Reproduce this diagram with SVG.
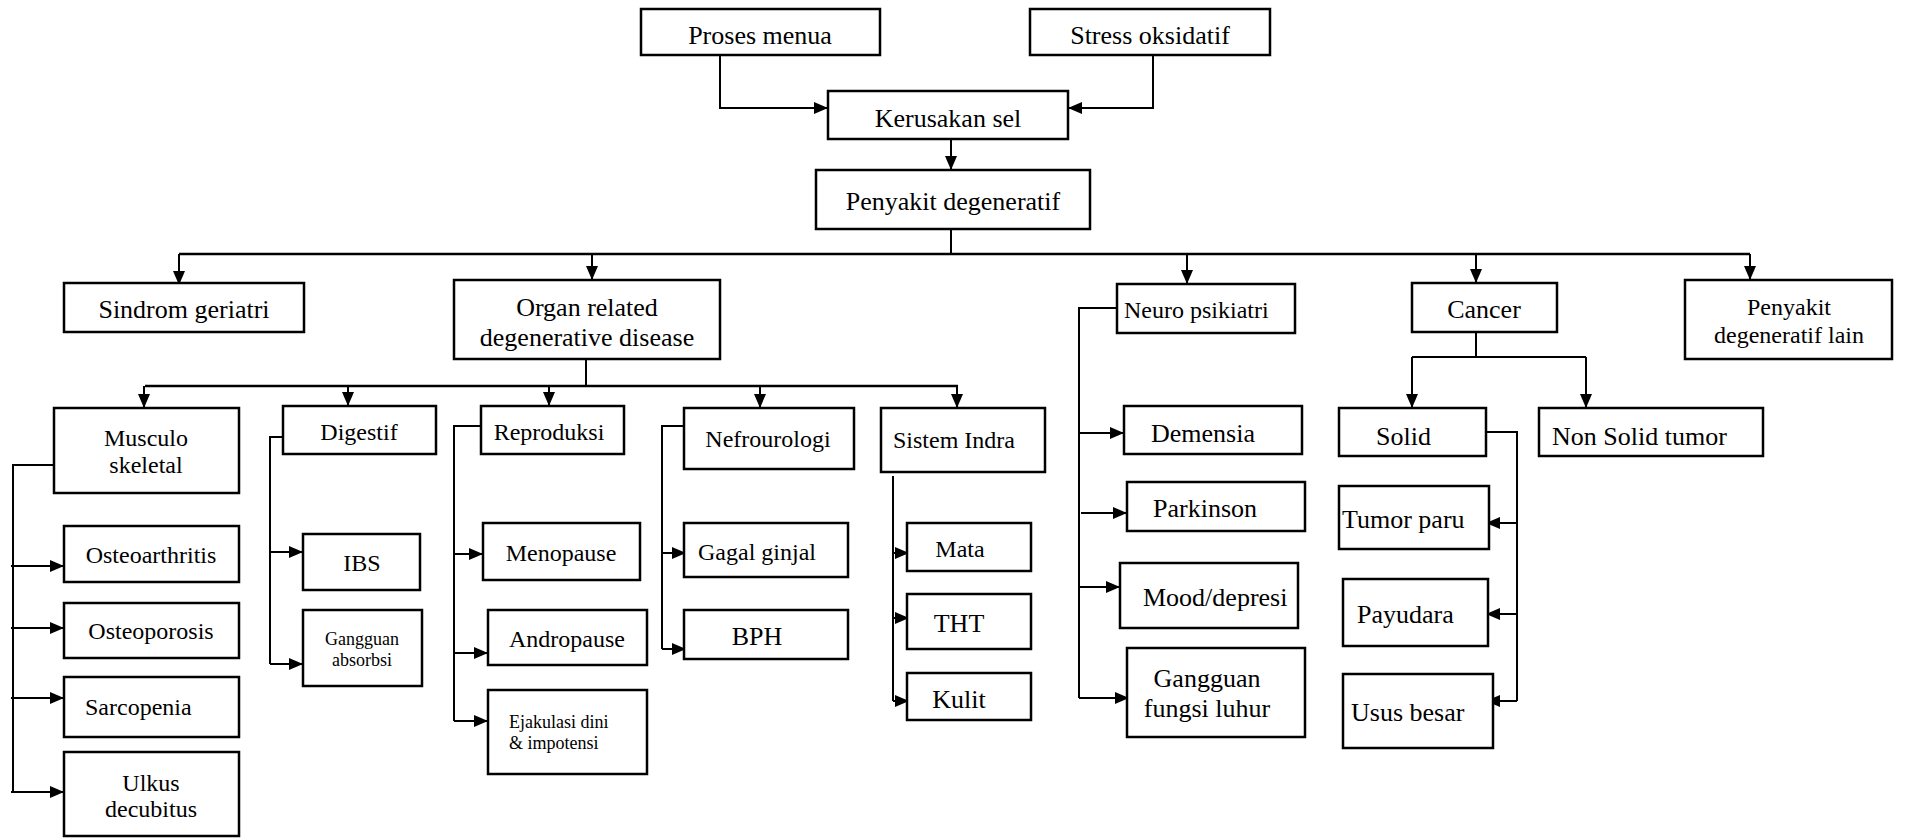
<svg xmlns="http://www.w3.org/2000/svg" width="1907" height="838" viewBox="0 0 1907 838">
<style>
.b{fill:#fff;stroke:#000;stroke-width:2.5}
text{font-family:'Liberation Serif','Times New Roman',serif !important;fill:#000;font-size:24px}
.l{font-size:26px}
.s{font-size:18px}
.c{text-anchor:middle}
.k{fill:none;stroke:#000;stroke-width:2}
.ka{fill:none;stroke:#000;stroke-width:2;marker-end:url(#a)}
</style>
<defs>
<marker id="a" markerUnits="userSpaceOnUse" markerWidth="14" markerHeight="12" refX="14" refY="6" orient="auto"><path d="M0,0L14,6L0,12z" fill="#000"/></marker>
</defs>
<rect width="1907" height="838" fill="#fff"/>
<g id="connectors">
<path class="ka" d="M720,55V108H828"/>
<path class="ka" d="M1153,55V108H1068"/>
<path class="ka" d="M951,139V170"/>
<path class="k" d="M951,229V254"/>
<path class="k" style="stroke-width:2.5" d="M179,254H1750"/>
<path class="ka" d="M179,254V285"/>
<path class="ka" d="M592,254V280"/>
<path class="ka" d="M1187,254V284"/>
<path class="ka" d="M1476,254V283"/>
<path class="ka" d="M1750,254V280"/>
<path class="k" d="M586,359V386"/>
<path class="k" style="stroke-width:2.5" d="M145,386H958"/>
<path class="ka" d="M144,386V408"/>
<path class="ka" d="M348,386V406"/>
<path class="ka" d="M549,386V406"/>
<path class="ka" d="M760,386V408"/>
<path class="ka" d="M957,386V408"/>
<path class="k" d="M54,465H13V792"/>
<path class="ka" d="M11,566H64"/>
<path class="ka" d="M11,628H64"/>
<path class="ka" d="M11,698H64"/>
<path class="ka" d="M11,792H64"/>
<path class="k" d="M290,437H270V664"/>
<path class="ka" d="M270,552H303"/>
<path class="ka" d="M270,664H303"/>
<path class="k" d="M481,426H454V721"/>
<path class="ka" d="M454,554H483"/>
<path class="ka" d="M454,653H488"/>
<path class="ka" d="M454,721H488"/>
<path class="k" d="M684,426H662V649"/>
<path class="ka" d="M662,553H686"/>
<path class="ka" d="M662,649H686"/>
<path class="k" d="M893,476V701"/>
<path class="ka" d="M893,553H909"/>
<path class="ka" d="M893,618H909"/>
<path class="ka" d="M893,701H909"/>
<path class="k" d="M1117,308H1079V698"/>
<path class="ka" d="M1079,433H1124"/>
<path class="ka" d="M1081,513H1127"/>
<path class="ka" d="M1079,587H1120"/>
<path class="ka" d="M1079,698H1129"/>
<path class="k" d="M1476,332V357"/>
<path class="k" d="M1412,357H1586"/>
<path class="ka" d="M1412,357V408"/>
<path class="ka" d="M1586,357V408"/>
<path class="k" d="M1486,432H1517V701"/>
<path class="ka" d="M1517,523H1486"/>
<path class="ka" d="M1517,614H1486"/>
<path class="ka" d="M1517,701H1486"/>
</g>
<g id="nodes" font-family="Liberation Serif, Times New Roman, serif">
<g id="proses"><rect class="b" x="641" y="9" width="239" height="46"/><text class="l c" x="760" y="44">Proses menua</text></g>
<g id="stress"><rect class="b" x="1030" y="9" width="240" height="46"/><text class="l c" x="1150" y="44">Stress oksidatif</text></g>
<g id="kerusakan"><rect class="b" x="828" y="91" width="240" height="48"/><text class="l c" x="948" y="127">Kerusakan sel</text></g>
<g id="penyakit"><rect class="b" x="816" y="170" width="274" height="59"/><text class="l c" x="953" y="210">Penyakit degeneratif</text></g>
<g id="sindrom"><rect class="b" x="64" y="283" width="240" height="49"/><text class="l c" x="184" y="318">Sindrom geriatri</text></g>
<g id="organ"><rect class="b" x="454" y="280" width="266" height="79"/><text class="l c" x="587" y="316">Organ related</text><text class="l c" x="587" y="346">degenerative disease</text></g>
<g id="neuro"><rect class="b" x="1117" y="284" width="178" height="49"/><text x="1124" y="318">Neuro psikiatri</text></g>
<g id="cancer"><rect class="b" x="1412" y="283" width="145" height="49"/><text class="l c" x="1484" y="318">Cancer</text></g>
<g id="lain"><rect class="b" x="1685" y="280" width="207" height="79"/><text class="c" x="1789" y="315">Penyakit</text><text class="c" x="1789" y="343">degeneratif lain</text></g>
<g id="musculo"><rect class="b" x="54" y="408" width="185" height="85"/><text class="c" x="146" y="446">Musculo</text><text class="c" x="146" y="473">skeletal</text></g>
<g id="digestif"><rect class="b" x="283" y="406" width="153" height="48"/><text class="c" x="359" y="440">Digestif</text></g>
<g id="reproduksi"><rect class="b" x="481" y="406" width="143" height="48"/><text class="c" x="549" y="440">Reproduksi</text></g>
<g id="nefro"><rect class="b" x="684" y="408" width="170" height="61"/><text class="c" x="768" y="447">Nefrourologi</text></g>
<g id="indra"><rect class="b" x="881" y="408" width="164" height="64"/><text x="893" y="448">Sistem Indra</text></g>
<g id="osteoarthritis"><rect class="b" x="64" y="526" width="175" height="56"/><text class="c" x="151" y="563">Osteoarthritis</text></g>
<g id="osteoporosis"><rect class="b" x="64" y="603" width="175" height="55"/><text class="c" x="151" y="639">Osteoporosis</text></g>
<g id="sarcopenia"><rect class="b" x="64" y="677" width="175" height="60"/><text x="85" y="715">Sarcopenia</text></g>
<g id="ulkus"><rect class="b" x="64" y="752" width="175" height="84"/><text class="c" x="151" y="791">Ulkus</text><text class="c" x="151" y="817">decubitus</text></g>
<g id="ibs"><rect class="b" x="303" y="534" width="117" height="56"/><text class="c" x="362" y="571">IBS</text></g>
<g id="absorbsi"><rect class="b" x="303" y="610" width="119" height="76"/><text class="s c" x="362" y="645">Gangguan</text><text class="s c" x="362" y="666">absorbsi</text></g>
<g id="menopause"><rect class="b" x="483" y="523" width="157" height="57"/><text class="c" x="561" y="561">Menopause</text></g>
<g id="andropause"><rect class="b" x="488" y="610" width="159" height="55"/><text class="c" x="567" y="647">Andropause</text></g>
<g id="ejakulasi"><rect class="b" x="488" y="690" width="159" height="84"/><text class="s" x="509" y="728">Ejakulasi dini</text><text class="s" x="509" y="749">&amp; impotensi</text></g>
<g id="gagal"><rect class="b" x="684" y="523" width="164" height="54"/><text x="698" y="560">Gagal ginjal</text></g>
<g id="bph"><rect class="b" x="684" y="610" width="164" height="49"/><text class="l c" x="757" y="645">BPH</text></g>
<g id="mata"><rect class="b" x="907" y="523" width="124" height="48"/><text class="c" x="960" y="557">Mata</text></g>
<g id="tht"><rect class="b" x="907" y="594" width="124" height="55"/><text class="l c" x="959" y="632">THT</text></g>
<g id="kulit"><rect class="b" x="907" y="673" width="124" height="47"/><text class="l c" x="959" y="708">Kulit</text></g>
<g id="demensia"><rect class="b" x="1124" y="406" width="178" height="48"/><text class="l" x="1151" y="442">Demensia</text></g>
<g id="parkinson"><rect class="b" x="1127" y="482" width="178" height="49"/><text class="l" x="1153" y="517">Parkinson</text></g>
<g id="mood"><rect class="b" x="1120" y="563" width="178" height="65"/><text class="l" x="1143" y="606">Mood/depresi</text></g>
<g id="luhur"><rect class="b" x="1127" y="648" width="178" height="89"/><text class="l c" x="1207" y="687">Gangguan</text><text class="l c" x="1207" y="717">fungsi luhur</text></g>
<g id="solid"><rect class="b" x="1339" y="408" width="147" height="48"/><text class="l" x="1376" y="445">Solid</text></g>
<g id="nonsolid"><rect class="b" x="1539" y="408" width="224" height="48"/><text class="l" x="1552" y="445">Non Solid tumor</text></g>
<g id="tumorparu"><rect class="b" x="1339" y="486" width="150" height="63"/><text class="l" x="1342" y="528">Tumor paru</text></g>
<g id="payudara"><rect class="b" x="1343" y="579" width="145" height="67"/><text class="l" x="1357" y="623">Payudara</text></g>
<g id="usus"><rect class="b" x="1343" y="674" width="150" height="74"/><text class="l" x="1351" y="721">Usus besar</text></g>
</g>
</svg>
